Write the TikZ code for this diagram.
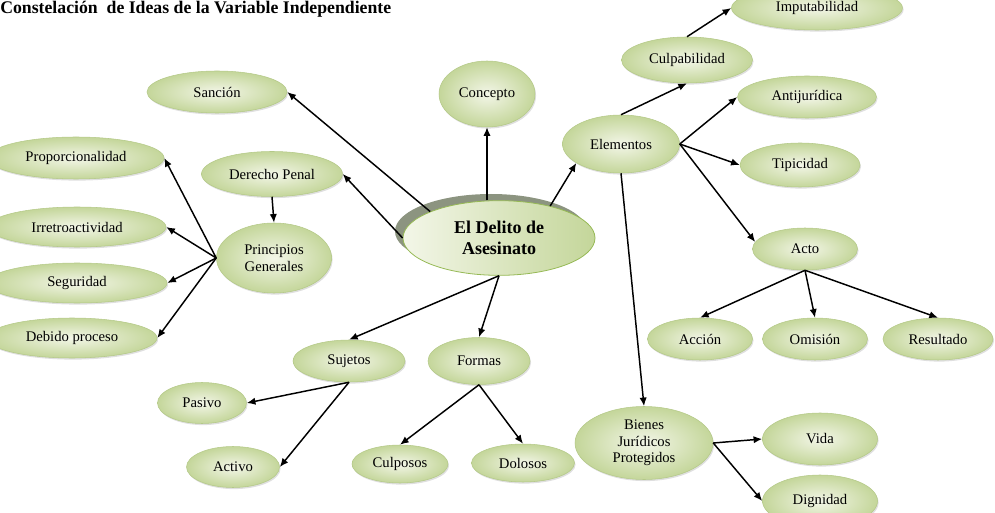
\documentclass[tikz,border=0pt]{standalone}
\usepackage{fontspec}
\setmainfont{Liberation Serif}
\usetikzlibrary{shapes.geometric,shadows,arrows.meta}
\definecolor{CIin}{RGB}{243,246,232}
\definecolor{CIout}{RGB}{196,214,154}
\definecolor{CIedge}{RGB}{180,201,136}
\definecolor{CImainedge}{RGB}{150,185,85}
\definecolor{CIshade}{RGB}{140,148,128}

\tikzset{CIidea/.style={ellipse,draw=CIedge,line width=0.4pt,inner color=CIin,outer color=CIout,
           inner sep=1pt,align=center,font=\fontsize{11}{12.5}\selectfont,
           drop shadow={shadow xshift=0.8pt,shadow yshift=-1.2pt,opacity=0.25}},
         CImain/.style={ellipse,draw=CImainedge,line width=0.6pt,left color=CIin,right color=CIout,
           inner sep=1pt,align=center,font=\fontsize{13.5}{15.5}\selectfont\bfseries,
           minimum width=144pt,minimum height=56pt,
           general shadow={fill=CIshade,shadow xshift=-6pt,shadow yshift=5pt}},
         CIarr/.style={-{Latex[length=6.5pt,width=5.5pt]},line width=1.1pt},
         CItit/.style={font=\fontsize{13.3}{15}\selectfont\bfseries,inner sep=0pt}}

\begin{document}
\begin{tikzpicture}[x=0.75pt,y=-0.75pt]
    \useasboundingbox (0,0) rectangle (995,513);
    \node[CItit,anchor=base west] (tit) at (0,14) {Constelación~ de Ideas de la Variable Independiente};
    \node[CImain] (main) at (499,238) {El Delito de\\Asesinato};
    % ideas: x/y/width/height/name/text
    \foreach \x/\y/\w/\h/\n/\l in {217/92/140/42/sanc/Sanción, 487/94/96/66/conc/Concepto,
        76/158/176/42/prop/Proporcionalidad, 272/174/141/45/der/Derecho Penal,
        77/227/178/40/irre/Irretroactividad, 274/258/115/70/prin/{Principios\\Generales},
        77/283/180/40/seg/Seguridad, 72/338/170/40/deb/Debido proceso,
        621/144/117/58/elem/Elementos, 687/60/131/46/culpab/Culpabilidad,
        817/8/171/44/imp/Imputabilidad, 807/97/139/42/anti/Antijurídica,
        800/165/120/44/tip/Tipicidad, 805/249/105/42/acto/Acto,
        700/339/105/42/acc/Acción, 815/339/105/42/omi/Omisión, 938/339/110/42/res/Resultado,
        644/443/138/73/bien/{Bienes\\Jurídicos\\Protegidos},
        820/439/115/52/vida/Vida, 820/501/115/52/dign/Dignidad,
        349/361/112/42/suj/Sujetos, 479/361/102/47/form/Formas,
        202/403/89/41/pas/Pasivo, 233/467/93/41/activ/Activo,
        400/464/96/38/culpos/Culposos, 523/463/103/38/dol/Dolosos}
      {\node[CIidea,minimum width=\w*0.75pt,minimum height=\h*0.75pt] (\n) at (\x,\y) {\l};}
    % arrows
    \draw[CIarr] (main.159) -- (sanc.east);
    \draw[CIarr] (main.west) -- (der.east);
    \draw[CIarr] (conc.south |- main.north) -- (conc.south);
    \draw[CIarr] (main.32) -- (elem.203);
    \foreach \n in {suj,form} \draw[CIarr] (main.south) -- (\n.north);
    \draw[CIarr] (der.south) -- (prin.north);
    \foreach \n in {prop,irre,seg,deb} \draw[CIarr] (prin.west) -- (\n.east);
    \draw[CIarr] (elem.north) -- (culpab.south);
    \draw[CIarr] (culpab.north) -- (imp.west);
    \foreach \n in {anti,tip} \draw[CIarr] (elem.east) -- (\n.west);
    \draw[CIarr] (elem.east) -- (acto.172);
    \draw[CIarr] (elem.south) -- (bien.north);
    \foreach \n in {acc,omi,res} \draw[CIarr] (acto.south) -- (\n.north);
    \foreach \n in {vida,dign} \draw[CIarr] (bien.east) -- (\n.west);
    \foreach \n in {pas,activ} \draw[CIarr] (suj.south) -- (\n.east);
    \foreach \n in {culpos,dol} \draw[CIarr] (form.south) -- (\n.north);
\end{tikzpicture}
\end{document}
